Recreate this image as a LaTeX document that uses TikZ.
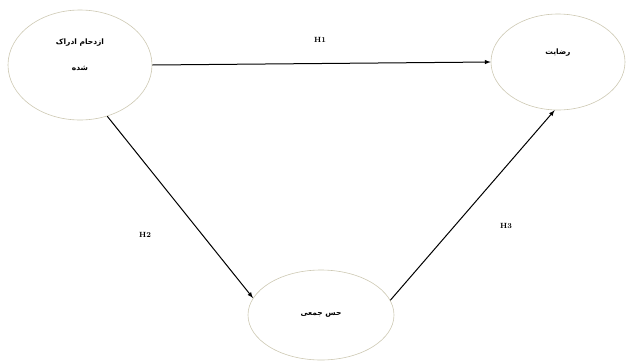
\documentclass[tikz,border=0pt]{standalone}
\usepackage{fontspec}
\usepackage{xcolor}
\usetikzlibrary{shapes.geometric}
\newfontfamily\arabicfont[Script=Arabic]{DejaVu Sans}
\TeXXeTstate=1
\definecolor{ringcol}{RGB}{205,200,178}

\begin{document}
\begin{tikzpicture}[
    x=1pt, y=-1pt,
    % Stili comuni per i costrutti e le ipotesi.
    every node/.style={align=center},
    construct/.style={ellipse, draw=ringcol, line width=0.6pt, inner sep=0pt,
        font=\arabicfont\bfseries\fontsize{7.5}{26}\selectfont},
    hpath/.style={draw, line width=1pt, ->, >=latex},
    hyp/.style={font=\bfseries\fontsize{7.5}{8}\selectfont}
]
\useasboundingbox (0,0) rectangle (627,362);

% Costrutti del modello.
\node[construct, minimum width=144pt, minimum height=110pt] (crowd) at (80,65)
    {\beginR ازدحام ادراک\endR\\\beginR شده\endR\\[-6pt]};
\node[construct, minimum width=134pt, minimum height=96pt] (satis) at (558,62)
    {\beginR رضایت\endR\\[-6pt]};
\node[construct, minimum width=146pt, minimum height=90pt] (comm) at (321,315)
    {\beginR حس جمعی\endR};

% Ipotesi H1, H2, H3.
\draw[hpath] (crowd.east) -- (satis.west);
\draw[hpath] (crowd.-62) -- (comm.166);
\draw[hpath] (comm.12) -- (satis.-94);

\node[hyp] (h1) at (320,40) {H1};
\node[hyp] (h2) at (145,235) {H2};
\node[hyp] (h3) at (506,226) {H3};
\end{tikzpicture}
\end{document}
